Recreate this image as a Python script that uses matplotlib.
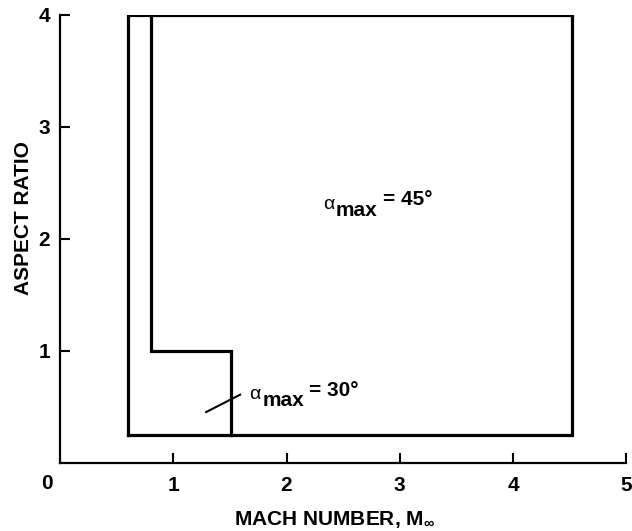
import matplotlib
matplotlib.use("Agg")
import matplotlib.pyplot as plt

plt.rcParams['font.family'] = ['Liberation Sans', 'DejaVu Sans']
plt.rcParams['mathtext.fontset'] = 'custom'
plt.rcParams['mathtext.rm'] = 'Liberation Sans:bold'
plt.rcParams['mathtext.bf'] = 'Liberation Sans:bold'
plt.rcParams['mathtext.it'] = 'Liberation Sans:italic'

# outer boundary of the envelope
outer_mach = [0.6, 0.6, 4.52, 4.52, 0.6]
outer_ar = [0.25, 4.0, 4.0, 0.25, 0.25]

# boundary between alpha_max = 30 deg and 45 deg regions
inner_mach = [0.8, 0.8, 1.51, 1.51]
inner_ar = [4.0, 1.0, 1.0, 0.25]

x_ticks = [1, 2, 3, 4, 5]
y_ticks = [1, 2, 3, 4]

# region labels: (alpha anchor mach, alpha anchor AR, text)
labels = [(2.32, 2.27, '= 45°'), (1.67, 0.57, '= 30°')]

fig = plt.figure(figsize=(6.32, 5.31), dpi=100)
ax = fig.add_axes([0.095, 0.128, 0.896, 0.844])

ax.plot(outer_mach, outer_ar, color='black', lw=2.3, solid_joinstyle='miter')
ax.plot(inner_mach, inner_ar, color='black', lw=2.3, solid_joinstyle='miter')

ax.set_xlim(0, 5)
ax.set_ylim(0, 4)
ax.set_xticks(x_ticks)
ax.set_yticks(y_ticks)
ax.tick_params(direction='in', length=7, width=1.5, labelsize=15)
ax.tick_params(axis='x', pad=9)
ax.tick_params(axis='y', pad=7)
for lab in ax.get_xticklabels() + ax.get_yticklabels():
    lab.set_fontweight('bold')

for s in ['top', 'right']:
    ax.spines[s].set_visible(False)
for s in ['left', 'bottom']:
    ax.spines[s].set_linewidth(1.6)

ax.text(-0.023, -0.045, '0', transform=ax.transAxes, ha='center', va='center',
        fontsize=15, fontweight='bold')

ax.set_xlabel(r'MACH NUMBER, M$_{\infty}$', fontsize=15, fontweight='bold')
ax.set_ylabel('ASPECT RATIO', fontsize=15, fontweight='bold')
ax.xaxis.set_label_coords(0.484, -0.103)
ax.yaxis.set_label_coords(-0.048, 0.547)

for x, y, txt in labels:
    ax.annotate('α', xy=(x, y), xytext=(0, 0), textcoords='offset points',
                fontsize=14, ha='left', va='baseline')
    ax.annotate('max', xy=(x, y), xytext=(9.5, -5), textcoords='offset points',
                fontsize=15, fontweight='bold', ha='left', va='baseline')
    ax.annotate(txt, xy=(x, y), xytext=(43, 2.5), textcoords='offset points',
                fontsize=15, fontweight='bold', ha='left', va='baseline')

# leader line to the 30 deg boundary
ax.plot([1.29, 1.59], [0.455, 0.61], color='black', lw=1.5)

fig.savefig('out.png', dpi=100)
